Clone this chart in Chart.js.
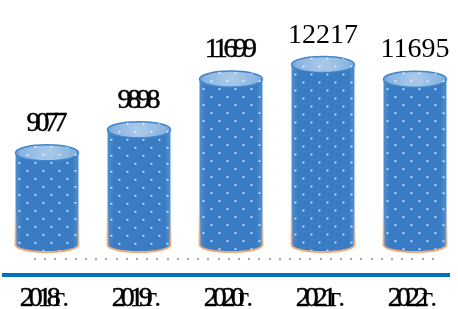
<!DOCTYPE html>
<html>
<head>
<meta charset="utf-8">
<script src="https://cdn.jsdelivr.net/npm/chart.js@4/dist/chart.umd.min.js"></script>
<style>
  html, body { margin: 0; padding: 0; background: #fff; }
  canvas { display: block; }
</style>
</head>
<body>
<canvas id="cylChart" width="458" height="309"></canvas>
<script>
const years = ['2018г.', '2019г.', '2020г.', '2021г.', '2022г.'];
const counts = [9077, 9898, 11699, 12217, 11695];
// the source picture sets some labels with very tight letter spacing
const valueSpacing = [-5, -4.3, -4.2, 0, 0];
const yearSpacing = -5;

const ctx = document.getElementById('cylChart').getContext('2d');

function dots(c, left, right, top, bottom) {
  c.fillStyle = 'rgba(255,255,255,0.8)';
  let row = 0;
  for (let y = top; y <= bottom; y += 8, row++) {
    const off = row % 2 ? 8 : 0;
    for (let x = left + 4 + off; x <= right; x += 16) {
      c.fillRect(x - 0.9, y - 0.9, 1.8, 1.8);
    }
  }
}

// draw text centred on x; the digits get the tight spacing, the rest stays normal
function spacedText(c, text, x, y, spacing) {
  const m = text.match(/^(\d+)(.*)$/);
  const head = m[1], tail = m[2];
  c.textAlign = 'left';
  c.letterSpacing = spacing + 'px';
  const wHead = c.measureText(head).width;
  c.letterSpacing = '0px';
  const tailGap = tail ? -2 : 0;
  const wTail = tail ? c.measureText(tail).width + tailGap : 0;
  const x0 = x - (wHead - spacing + wTail) / 2;
  c.letterSpacing = spacing + 'px';
  c.fillText(head, x0, y);
  if (spacing < 0) {
    // overlapped glyphs look heavier in the source
    c.strokeStyle = '#000';
    c.lineWidth = 0.5;
    c.strokeText(head, x0, y);
  }
  c.letterSpacing = '0px';
  if (tail) c.fillText(tail, x0 + wHead + tailGap, y);
}

const cylinders = {
  id: 'cylinders',
  afterDatasetsDraw(chart) {
    const c = chart.ctx;
    const yScale = chart.scales.y;
    const base = yScale.getPixelForValue(yScale.min);
    const meta = chart.getDatasetMeta(0);
    meta.data.forEach((bar, i) => {
      const cx = bar.x, rx = bar.width / 2, top = bar.y;
      const l = cx - rx, r = cx + rx;
      const ryT = 8, ryB = 7;

      // body
      c.save();
      c.beginPath();
      c.moveTo(l, top);
      c.lineTo(l, base);
      c.ellipse(cx, base, rx, ryB, 0, Math.PI, 0, true);
      c.lineTo(r, top);
      c.ellipse(cx, top, rx, ryT, 0, 0, Math.PI, true);
      c.closePath();
      const g = c.createLinearGradient(l, 0, r, 0);
      g.addColorStop(0, '#4f8fd0');
      g.addColorStop(0.1, '#3a7cc3');
      g.addColorStop(0.9, '#3a7cc3');
      g.addColorStop(1, '#4f8fd0');
      c.fillStyle = g;
      c.fill();
      c.clip();
      dots(c, l, r, top - 6, base + ryB);
      c.restore();

      // orange glow at lower part
      c.save();
      const og = c.createLinearGradient(0, top, 0, base + ryB);
      og.addColorStop(0, 'rgba(244,177,131,0)');
      og.addColorStop(Math.max(0, 1 - 45 / (base + ryB - top)), 'rgba(244,177,131,0)');
      og.addColorStop(1, 'rgba(244,170,120,1)');
      c.strokeStyle = og;
      c.lineWidth = 2;
      c.beginPath();
      c.moveTo(l, top);
      c.lineTo(l, base);
      c.ellipse(cx, base, rx, ryB, 0, Math.PI, 0, true);
      c.lineTo(r, top);
      c.stroke();
      c.restore();

      // top ellipse
      c.save();
      c.beginPath();
      c.ellipse(cx, top, rx, ryT, 0, 0, Math.PI * 2);
      const tg = c.createRadialGradient(cx, top, 2, cx, top, rx);
      tg.addColorStop(0, '#a9c9ea');
      tg.addColorStop(0.8, '#8ab5e0');
      tg.addColorStop(1, '#6fa3d8');
      c.fillStyle = tg;
      c.fill();
      c.strokeStyle = '#3f86cc';
      c.lineWidth = 1.5;
      c.stroke();
      c.clip();
      dots(c, l, r, top - 6, top + ryT);
      c.restore();

      // value label and year label
      c.save();
      c.fillStyle = '#000';
      c.font = '28px "Liberation Serif"';
      c.textBaseline = 'alphabetic';
      spacedText(c, String(counts[i]), cx, top - 22, valueSpacing[i]);
      spacedText(c, years[i], cx, 306, yearSpacing);
      c.restore();
    });

    // dotted guide and blue base line
    c.save();
    c.fillStyle = '#a6a6a6';
    for (let x = 34; x <= 436; x += 10.2) c.fillRect(Math.round(x), 258, 2, 2);
    c.fillStyle = '#0070c0';
    c.fillRect(2, 273, 448, 4);
    c.restore();
  }
};

new Chart(ctx, {
  type: 'bar',
  data: {
    labels: years,
    datasets: [{
      data: counts,
      backgroundColor: 'rgba(0,0,0,0)',
      borderWidth: 0,
      barThickness: 63,
      clip: false
    }]
  },
  options: {
    responsive: false,
    animation: false,
    layout: { padding: { top: 20, bottom: 64, left: 47, right: 43 } },
    plugins: { legend: { display: false }, tooltip: { enabled: false } },
    scales: {
      x: { display: false, offset: false },
      y: { display: false, min: 5800, max: 13800 }
    }
  },
  plugins: [cylinders]
});
</script>
</body>
</html>
